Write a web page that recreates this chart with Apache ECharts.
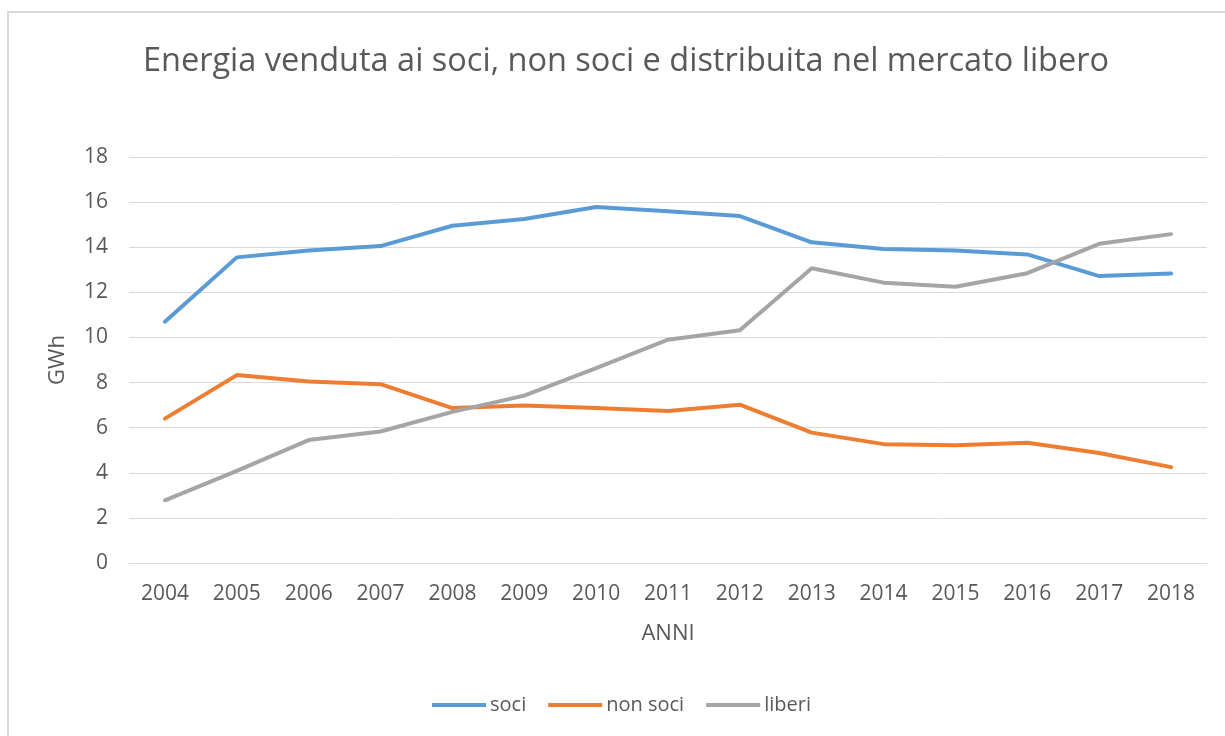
<!DOCTYPE html>
<html>
<head>
<meta charset="utf-8">
<script src="https://cdn.jsdelivr.net/npm/echarts@6/dist/echarts.min.js"></script>
<style>
    html, body { margin: 0; padding: 0; background: #fff; }
    #frame {
        position: absolute;
        left: 7px;
        top: 11px;
        width: 1230px;
        height: 740px;
        border: 2px solid #d9d9d9;
        box-sizing: border-box;
    }
    #main { position: absolute; left: 0; top: 0; width: 1225px; height: 736px; }
</style>
</head>
<body>
<div id="frame"></div>
<div id="main"></div>
<script>
const years = ["2004", "2005", "2006", "2007", "2008", "2009", "2010", "2011", "2012", "2013", "2014", "2015", "2016", "2017", "2018"];
const soci = [10.7, 13.55, 13.85, 14.05, 14.95, 15.25, 15.78, 15.6, 15.38, 14.22, 13.92, 13.85, 13.68, 12.72, 12.83];
const nonSoci = [6.4, 8.33, 8.05, 7.93, 6.87, 6.98, 6.87, 6.74, 7.02, 5.78, 5.27, 5.22, 5.33, 4.88, 4.25];
const liberi = [2.78, 4.08, 5.45, 5.83, 6.7, 7.42, 8.64, 9.9, 10.32, 13.07, 12.43, 12.25, 12.85, 14.15, 14.58];
const seriesNames = ["soci", "non soci", "liberi"];
const colors = ["#5B9BD5", "#ED7D31", "#A5A5A5"];

const font = "Open Sans";
const txt = "#595959";

const mkLine = (name, data, color) => ({
    name: name,
    type: "line",
    data: data,
    symbol: "none",
    lineStyle: { width: 4, color: color, cap: "round", join: "round" },
    itemStyle: { color: color },
});

const option = {
    animation: false,
    textStyle: { fontFamily: font, color: txt },
    title: {
        text: "Energia venduta ai soci, non soci e distribuita nel mercato libero",
        left: 621,
        textAlign: "center",
        top: 40,
        textStyle: { fontFamily: font, fontSize: 32.5, fontWeight: "normal", color: txt },
    },
    legend: {
        data: seriesNames,
        top: 695,
        left: 432,
        padding: 0,
        itemWidth: 54,
        itemHeight: 4,
        itemGap: 22,
        icon: "rect",
        textStyle: { fontFamily: font, fontSize: 20, color: txt, padding: [0, 0, 0, -1] },
    },
    grid: { left: 129, right: 18, top: 157, bottom: 173, containLabel: false },
    xAxis: {
        type: "category",
        data: years,
        boundaryGap: true,
        name: "ANNI",
        nameLocation: "middle",
        nameGap: 60,
        nameTextStyle: { fontSize: 22, color: txt },
        axisLine: { show: true, lineStyle: { color: "#d9d9d9", width: 1 } },
        axisTick: { show: false },
        axisLabel: { fontSize: 21, color: txt, margin: 21 },
    },
    yAxis: {
        type: "value",
        min: 0,
        max: 18,
        interval: 2,
        name: "GWh",
        nameLocation: "middle",
        nameGap: 60,
        nameRotate: 90,
        nameTextStyle: { fontSize: 22, color: txt },
        axisLine: { show: false },
        axisTick: { show: false },
        axisLabel: { fontSize: 21, color: txt, margin: 21 },
        splitLine: { lineStyle: { color: "#d9d9d9", width: 1 } },
    },
    series: [
        mkLine(seriesNames[0], soci, colors[0]),
        mkLine(seriesNames[1], nonSoci, colors[1]),
        mkLine(seriesNames[2], liberi, colors[2]),
    ],
};

var myChart = echarts.init(document.getElementById("main"), null, { renderer: "canvas" });
myChart.setOption(option);
</script>
</body>
</html>
